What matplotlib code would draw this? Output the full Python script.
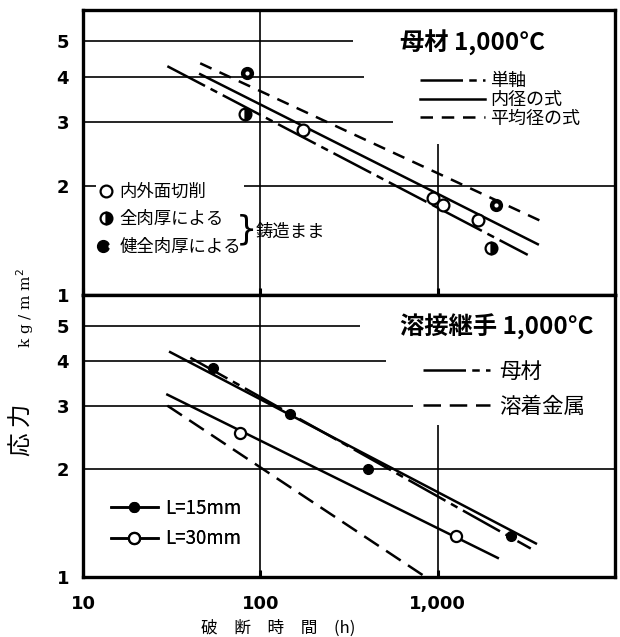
import matplotlib
matplotlib.use('Agg')
import matplotlib.pyplot as plt
from matplotlib.lines import Line2D
from matplotlib.legend_handler import HandlerTuple

plt.rcParams['font.family'] = ['Noto Sans CJK JP', 'DejaVu Sans']

# ---------------- data ----------------
# top panel: 母材 1,000°C
top_title = '母材 1,000°C'
uni_x = [29.9, 3220]          # 単軸 (dash-dot)
uni_y = [4.27, 1.29]
inner_x = [45.8, 3670]        # 内径の式 (solid)
inner_y = [4.06, 1.38]
mean_x = [45.8, 3917]         # 平均径の式 (dashed)
mean_y = [4.35, 1.59]
machined_x = [173, 937, 1067, 1683]     # 内外面切削
machined_y = [2.85, 1.85, 1.765, 1.61]
full_x = [82, 1997]                     # 全肉厚による
full_y = [3.15, 1.35]
sound_x = [84.5, 2128]                  # 健全肉厚による
sound_y = [4.08, 1.77]
top_line_labels = ['単軸', '内径の式', '平均径の式']
top_marker_labels = ['内外面切削', '全肉厚による', '健全肉厚による']

# bottom panel: 溶接継手 1,000°C
bot_title = '溶接継手 1,000°C'
l15_line_x = [31, 3580]
l15_line_y = [4.23, 1.24]
l15_x = [54.2, 147.5, 407, 2583]
l15_y = [3.83, 2.85, 2.0, 1.30]
l30_line_x = [29.9, 2183]
l30_line_y = [3.22, 1.13]
l30_x = [77.1, 1265]
l30_y = [2.52, 1.30]
base_x = [40.3, 3350]         # 母材 (dash-dot)
base_y = [4.08, 1.20]
weld_x = [29.9, 855]          # 溶着金属 (dashed)
weld_y = [3.0, 1.0]
bot_line_labels = ['母材', '溶着金属']
bot_marker_labels = ['L=15mm', 'L=30mm']

y_ticks = [1, 2, 3, 4, 5]
x_ticks = [10, 100, 1000]
x_ticklabels = ['10', '100', '1,000']

# partial horizontal grid lines (value, right end)
top_grid = [(5, 335), (4, 382), (3, 557), (2, 1e4)]
bot_grid = [(5, 367), (4, 508), (3, 723), (2, 1e4)]
top_v1000_to = 2.6
bot_v1000_to = 2.65

# ---------------- figure ----------------
W, H = 620, 637
fig = plt.figure(figsize=(W / 100, H / 100), dpi=100)
L, R = 83, 615
ax1 = fig.add_axes([L / W, 1 - 295 / H, (R - L) / W, (295 - 10) / H])
ax2 = fig.add_axes([L / W, 1 - 577 / H, (R - L) / W, (577 - 295) / H])

DD = (17, 2.5, 3, 2.5)
DS = (5, 3.5)
LW = 1.8

for ax, grid, vto in ((ax1, top_grid, top_v1000_to), (ax2, bot_grid, bot_v1000_to)):
    ax.set_xscale('log')
    ax.set_yscale('log')
    ax.set_xlim(10, 1e4)
    ax.set_ylim(1, 6.1)
    ax.set_yticks(y_ticks)
    ax.set_yticklabels([str(t) for t in y_ticks])
    ax.yaxis.set_minor_locator(matplotlib.ticker.NullLocator())
    ax.xaxis.set_minor_locator(matplotlib.ticker.NullLocator())
    ax.set_xticks(x_ticks)
    ax.tick_params(axis='y', length=0, pad=10)
    ax.tick_params(axis='x', direction='in', length=5, width=2.2)
    for lab in ax.get_yticklabels():
        lab.set_fontfamily('DejaVu Sans')
        lab.set_fontweight('bold')
        lab.set_fontsize(13)
    for s in ax.spines.values():
        s.set_linewidth(2.4)
    for val, end in grid:
        ax.hlines(val, 10, end, color='k', lw=1.2, zorder=1)
    ax.vlines(100, 1, 6.1, color='k', lw=1.2, zorder=1)
    ax.vlines(1000, 1, vto, color='k', lw=1.2, zorder=1)

ax1.set_xticklabels([])
ax2.set_xticklabels(x_ticklabels, fontfamily='DejaVu Sans', fontweight='bold', fontsize=13)
ax2.tick_params(axis='x', pad=13)

# ---- top panel ----
h_uni, = ax1.plot(uni_x, uni_y, color='k', lw=LW, dashes=DD)
h_inner, = ax1.plot(inner_x, inner_y, color='k', lw=LW)
h_mean, = ax1.plot(mean_x, mean_y, color='k', lw=LW, dashes=DS)
ms = 8.5
ax1.plot(machined_x, machined_y, 'o', ms=ms, mfc='white', mec='k', mew=1.6, zorder=4)
ax1.plot(full_x, full_y, 'o', ms=ms, mfc='k', mec='k', mew=1.6, fillstyle='right',
         markerfacecoloralt='white', zorder=4)
ax1.plot(sound_x, sound_y, 'o', ms=ms, color='k', zorder=4)
ax1.plot(sound_x, sound_y, 'o', ms=3, color='white', mew=0, zorder=5)

ax1.text((400 - L) / (R - L), (295 - 43) / 285, top_title, transform=ax1.transAxes,
         fontsize=17.5, fontweight='bold', va='center', ha='left')
leg1 = ax1.legend([h_uni, h_inner, h_mean], top_line_labels, loc='upper left',
                  bbox_to_anchor=((420 - L) / (R - L), (295 - 72) / 285),
                  frameon=False, fontsize=13, handlelength=3.6, handletextpad=0.3,
                  labelspacing=0.05, borderpad=0, borderaxespad=0)
ax1.add_artist(leg1)

p_mach = Line2D([], [], ls='none', marker='o', ms=ms, mfc='white', mec='k', mew=1.6)
p_full = Line2D([], [], ls='none', marker='o', ms=ms, mfc='k', mec='k', mew=1.6,
                fillstyle='right', markerfacecoloralt='white')
p_sb = Line2D([], [], ls='none', marker='o', ms=ms, color='k')
p_ss = Line2D([], [], ls='none', marker='o', ms=3, color='white', mew=0)
leg2 = ax1.legend([p_mach, p_full, (p_sb, p_ss)], top_marker_labels, loc='upper left',
                  bbox_to_anchor=((96 - L) / (R - L), (295 - 180) / 285),
                  frameon=True, facecolor='white', edgecolor='none', framealpha=1,
                  fontsize=12.5, handlelength=0.9, handletextpad=0.3,
                  labelspacing=0.55, borderpad=0.15, borderaxespad=0,
                  handler_map={tuple: HandlerTuple(ndivide=None, pad=0)})
leg2.set_zorder(3)
ax1.add_artist(leg2)
ax1.text((236 - L) / (R - L), (295 - 230) / 285, '}', transform=ax1.transAxes,
         fontsize=24, family='DejaVu Sans', va='center', ha='left', zorder=6)
ax1.text((256 - L) / (R - L), (295 - 232) / 285, '鋳造まま', transform=ax1.transAxes,
         fontsize=12.5, va='center', ha='left', zorder=6)

# ---- bottom panel ----
ax2.plot(l15_line_x, l15_line_y, color='k', lw=LW)
ax2.plot(l15_x, l15_y, 'o', ms=7, color='k', zorder=4)
ax2.plot(l30_line_x, l30_line_y, color='k', lw=LW)
ax2.plot(l30_x, l30_y, 'o', ms=8, mfc='white', mec='k', mew=1.6, zorder=4)
h_base, = ax2.plot(base_x, base_y, color='k', lw=LW, dashes=DD)
h_weld, = ax2.plot(weld_x, weld_y, color='k', lw=LW, dashes=(7, 3.5))

ax2.text((400 - L) / (R - L), (577 - 327) / 282, bot_title, transform=ax2.transAxes,
         fontsize=17.5, fontweight='bold', va='center', ha='left')
leg3 = ax2.legend([h_base, h_weld], bot_line_labels, loc='upper left',
                  bbox_to_anchor=((423 - L) / (R - L), (577 - 361) / 282),
                  frameon=False, fontsize=15.5, handlelength=3.1, handletextpad=0.45,
                  labelspacing=0.6, borderpad=0, borderaxespad=0)
ax2.add_artist(leg3)
p15 = Line2D([], [], color='k', lw=LW, marker='o', ms=7)
p30 = Line2D([], [], color='k', lw=LW, marker='o', ms=8, mfc='white', mec='k', mew=1.6)
leg4 = ax2.legend([p15, p30], bot_marker_labels, loc='upper left',
                  bbox_to_anchor=((111 - L) / (R - L), (577 - 498) / 282),
                  frameon=False, fontsize=13.5, handlelength=2.5, handletextpad=0.4,
                  labelspacing=0.5, borderpad=0, borderaxespad=0, numpoints=1)
ax2.add_artist(leg4)

# axis labels
fig.text(278 / W, 1 - 628 / H, '破　断　時　間　(h)', ha='center', va='center', fontsize=12)
fig.text(22 / W, 1 - 430 / H, '応 力', rotation=90, ha='center', va='center', fontsize=17)
fig.text(25 / W, 1 - 308 / H, 'k g / m m$^2$', rotation=90, ha='center', va='center',
         fontsize=11, family='DejaVu Serif')

fig.savefig('out.png', dpi=100)
